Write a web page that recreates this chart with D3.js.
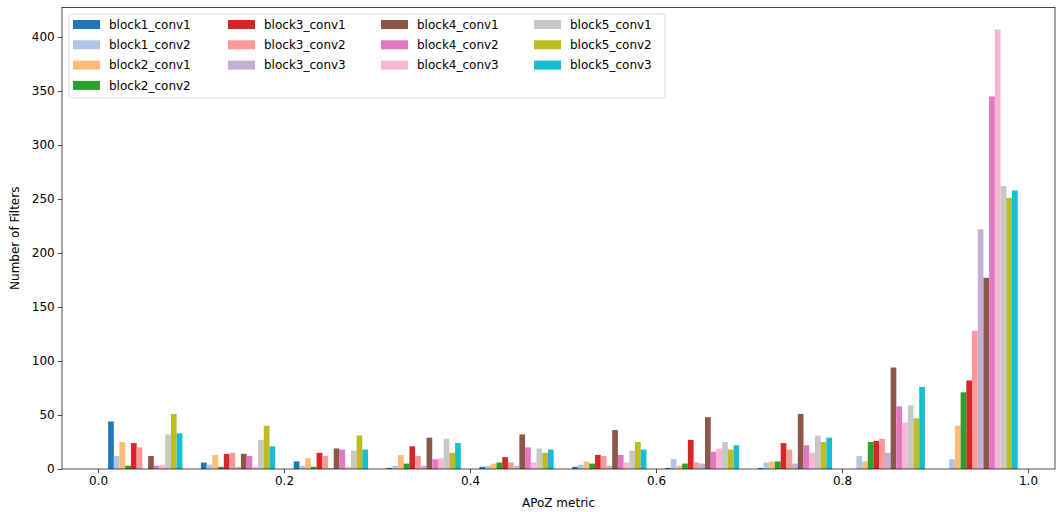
<!DOCTYPE html>
<html>
<head>
<meta charset="utf-8">
<script src="https://cdn.jsdelivr.net/npm/d3@7"></script>
<style>
  html, body { margin: 0; padding: 0; background: #fff; }
  svg { display: block; font-family: "DejaVu Sans", sans-serif; }
</style>
</head>
<body>
<svg id="chart" width="1057" height="512"></svg>
<script>
// Layers of VGG16 whose filters are histogrammed by APoZ value
const layers = [
  "block1_conv1", "block1_conv2", "block2_conv1", "block2_conv2",
  "block3_conv1", "block3_conv2", "block3_conv3",
  "block4_conv1", "block4_conv2", "block4_conv3",
  "block5_conv1", "block5_conv2", "block5_conv3"
];
const colors = [
  "#1f77b4", "#aec7e8", "#ffbb78", "#2ca02c",
  "#d62728", "#ff9896", "#c5b0d5",
  "#8c564b", "#e377c2", "#f7b6d2",
  "#c7c7c7", "#bcbd22", "#17becf"
];

// Histogram range (min / max APoZ over all filters), 10 equal bins
const apozMin = 0.0009;
const apozMax = 0.9989;
const binCount = 10;

// Filter counts per bin, one array per layer
const block1_conv1 = [44, 6, 7, 1, 2, 2, 1, 1, 0, 0];
const block1_conv2 = [12, 4, 3, 3, 3, 4, 9, 6, 12, 9];
const block2_conv1 = [25, 13, 10, 13, 5, 7, 3, 7, 7, 40];
const block2_conv2 = [3, 2, 2, 5, 6, 5, 5, 7, 25, 71];
const block3_conv1 = [24, 14, 15, 21, 11, 13, 27, 24, 26, 82];
const block3_conv2 = [20, 15, 12, 12, 6, 12, 6, 18, 28, 128];
const block3_conv3 = [0, 2, 1, 3, 3, 3, 5, 5, 15, 222];
const block4_conv1 = [12, 14, 19, 29, 32, 36, 48, 51, 94, 177];
const block4_conv2 = [3, 12, 18, 9, 20, 13, 16, 22, 58, 345];
const block4_conv3 = [4, 2, 2, 10, 6, 6, 19, 15, 43, 407];
const block5_conv1 = [32, 27, 17, 28, 19, 17, 25, 31, 59, 262];
const block5_conv2 = [51, 40, 31, 15, 15, 25, 18, 25, 47, 251];
const block5_conv3 = [33, 21, 18, 24, 18, 18, 22, 29, 76, 258];

const counts = [
  block1_conv1, block1_conv2, block2_conv1, block2_conv2,
  block3_conv1, block3_conv2, block3_conv3,
  block4_conv1, block4_conv2, block4_conv3,
  block5_conv1, block5_conv2, block5_conv3
];

const xTicks = [0.0, 0.2, 0.4, 0.6, 0.8, 1.0];
const yTicks = [0, 50, 100, 150, 200, 250, 300, 350, 400];

// ---- layout ----
const svg = d3.select("#chart");
const plot = { left: 62, right: 1055, top: 7.5, bottom: 469 };
const fontSize = 12;

const x = d3.scaleLinear().domain([-0.0387, 1.029]).range([plot.left, plot.right]);
const yMax = d3.max(counts.flat()) * 1.05;
const y = d3.scaleLinear().domain([0, yMax]).range([plot.bottom, plot.top]);

// Bin geometry (grouped bars, 80% of each bin shared by all layers)
const binW = (apozMax - apozMin) / binCount;
const binEdges = d3.range(binCount).map(i => apozMin + i * binW);
const groupFrac = 0.8;
const barW = groupFrac * binW / layers.length;

// Bars
const g = svg.append("g");
layers.forEach((name, li) => {
  g.append("g")
    .attr("fill", colors[li])
    .selectAll("rect")
    .data(counts[li].map((c, bi) => ({ c, bi })).filter(d => d.c > 0))
    .join("rect")
    .attr("x", d => x(binEdges[d.bi] + binW * (1 - groupFrac) / 2 + li * barW))
    .attr("width", x(barW) - x(0))
    .attr("y", d => y(d.c))
    .attr("height", d => y(0) - y(d.c));
});

// Axes
const xAxis = d3.axisBottom(x).tickValues(xTicks).tickFormat(d3.format(".1f")).tickSize(4.3).tickPadding(3);
const yAxis = d3.axisLeft(y).tickValues(yTicks).tickFormat(d3.format("d")).tickSize(4.3).tickPadding(3);

const gx = svg.append("g").attr("transform", `translate(0,${plot.bottom})`).call(xAxis);
const gy = svg.append("g").attr("transform", `translate(${plot.left},0)`).call(yAxis);
[gx, gy].forEach(a => {
  a.select(".domain").remove();
  a.selectAll("text").attr("font-size", fontSize).attr("font-family", "DejaVu Sans").attr("fill", "#000");
  a.selectAll("line").attr("stroke", "#000").attr("stroke-width", 0.7);
});

// Frame
svg.append("rect")
  .attr("x", plot.left).attr("y", plot.top)
  .attr("width", plot.right - plot.left).attr("height", plot.bottom - plot.top)
  .attr("fill", "none").attr("stroke", "#000").attr("stroke-width", 0.7);

// Axis labels
svg.append("text")
  .attr("x", (plot.left + plot.right) / 2).attr("y", 507)
  .attr("text-anchor", "middle").attr("font-size", fontSize)
  .text("APoZ metric");
svg.append("text")
  .attr("transform", `translate(19,${(plot.top + plot.bottom) / 2}) rotate(-90)`)
  .attr("text-anchor", "middle").attr("font-size", fontSize)
  .text("Number of Filters");

// Legend: 4 columns filled column by column, first column takes the extra entry
const legend = svg.append("g");
legend.append("rect")
  .attr("x", 69).attr("y", 14).attr("width", 596).attr("height", 84)
  .attr("rx", 3).attr("fill", "#fff").attr("fill-opacity", 0.8)
  .attr("stroke", "#d0d0d0").attr("stroke-width", 0.8);
const ncol = 4;
const base = Math.floor(layers.length / ncol), extra = layers.length % ncol;
const colSizes = d3.range(ncol).map(c => base + (c < extra ? 1 : 0));
const colStarts = colSizes.map((s, c) => d3.sum(colSizes.slice(0, c)));
const colX = [73, 228, 381, 534];
const rowY = [24.5, 44.8, 65.1, 85.4];
layers.forEach((name, i) => {
  let c = 0;
  while (c + 1 < ncol && i >= colStarts[c + 1]) c++;
  const r = i - colStarts[c];
  legend.append("rect")
    .attr("x", colX[c]).attr("y", rowY[r] - 4.5)
    .attr("width", 27).attr("height", 9)
    .attr("fill", colors[i]);
  legend.append("text")
    .attr("x", colX[c] + 36).attr("y", rowY[r])
    .attr("dy", "0.35em").attr("font-size", fontSize)
    .text(name);
});
</script>
</body>
</html>
